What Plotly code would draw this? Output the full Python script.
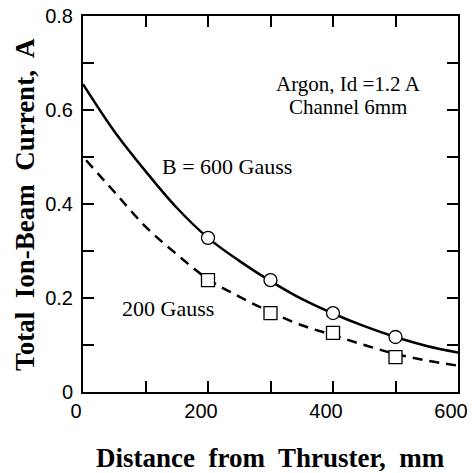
import plotly.graph_objects as go

# Measured points
dist_pts = [200, 300, 400, 500]
i_600 = [0.328, 0.238, 0.168, 0.117]
i_200 = [0.238, 0.168, 0.126, 0.074]

# Fit curves
x_600 = [0, 50, 100, 150, 200, 250, 300, 350, 400, 450, 500, 550, 600]
y_600 = [0.655, 0.555, 0.470, 0.392, 0.328, 0.279, 0.236, 0.198, 0.167, 0.140, 0.117, 0.098, 0.084]
x_200 = [5, 50, 100, 150, 200, 250, 300, 350, 400, 450, 500, 550, 600]
y_200 = [0.493, 0.426, 0.352, 0.293, 0.240, 0.203, 0.170, 0.142, 0.121, 0.100, 0.081, 0.067, 0.056]

x_ticks = [0, 100, 200, 300, 400, 500, 600]
x_tick_text = ["0", "", "200", "", "400", "", "600"]
y_ticks = [0, 0.1, 0.2, 0.3, 0.4, 0.5, 0.6, 0.7, 0.8]
y_tick_text = ["0", "", "0.2", "", "0.4", "", "0.6", "", "0.8"]

fig = go.Figure()
fig.add_trace(go.Scatter(x=x_600, y=y_600, mode="lines", line=dict(color="black", width=2.5, shape="spline"), showlegend=False))
fig.add_trace(go.Scatter(x=x_200, y=y_200, mode="lines", line=dict(color="black", width=2.5, dash="10px,7px", shape="spline"), showlegend=False))
fig.add_trace(go.Scatter(x=dist_pts, y=i_600, mode="markers",
                         marker=dict(symbol="circle", size=13, color="white", line=dict(color="black", width=1.3)), showlegend=False))
fig.add_trace(go.Scatter(x=dist_pts, y=i_200, mode="markers",
                         marker=dict(symbol="square", size=13, color="white", line=dict(color="black", width=1.3)), showlegend=False))

serif = "Liberation Serif, Times New Roman, serif"
sans = "Liberation Sans, Arial, sans-serif"

fig.update_layout(
    width=472, height=473,
    margin=dict(l=83, r=14, t=16, b=81, autoexpand=False),
    plot_bgcolor="white", paper_bgcolor="white",
    xaxis=dict(range=[0, 600], tickvals=x_ticks, ticktext=x_tick_text, ticks="inside", ticklen=11, tickwidth=1.8,
               tickcolor="black", showline=True, linecolor="black", linewidth=2, mirror="ticks",
               showgrid=False, zeroline=False, ticklabelshift=-7, ticklabeloverflow="allow", automargin=False,
               tickfont=dict(family=sans, size=20, color="black")),
    yaxis=dict(range=[0, 0.8], tickvals=y_ticks, ticktext=y_tick_text, ticks="inside", ticklen=11, tickwidth=1.8,
               tickcolor="black", showline=True, linecolor="black", linewidth=2, mirror="ticks",
               showgrid=False, zeroline=False, automargin=False, ticklabelstandoff=4,
               tickfont=dict(family=sans, size=20, color="black")),
    annotations=[
        dict(x=424, y=0.656, xref="x", yref="y", text="Argon, Id =1.2 A", showarrow=False,
             font=dict(family=serif, size=21, color="black")),
        dict(x=424, y=0.607, xref="x", yref="y", text="Channel 6mm", showarrow=False,
             font=dict(family=serif, size=21, color="black")),
        dict(x=230, y=0.479, xref="x", yref="y", text="B = 600 Gauss", showarrow=False,
             font=dict(family=serif, size=22, color="black")),
        dict(x=136, y=0.177, xref="x", yref="y", text="200 Gauss", showarrow=False,
             font=dict(family=serif, size=22, color="black")),
        dict(x=0.5, y=-0.176, xref="paper", yref="paper", xanchor="center", yanchor="middle",
             text="<b>Distance  from  Thruster,  mm</b>", showarrow=False,
             font=dict(family=serif, size=27, color="black")),
        dict(x=-0.155, y=0.5, xref="paper", yref="paper", xanchor="center", yanchor="middle", textangle=-90,
             text="<b>Total  Ion-Beam  Current,  A</b>", showarrow=False,
             font=dict(family=serif, size=27, color="black")),
    ],
)

fig.write_html("out.html")
